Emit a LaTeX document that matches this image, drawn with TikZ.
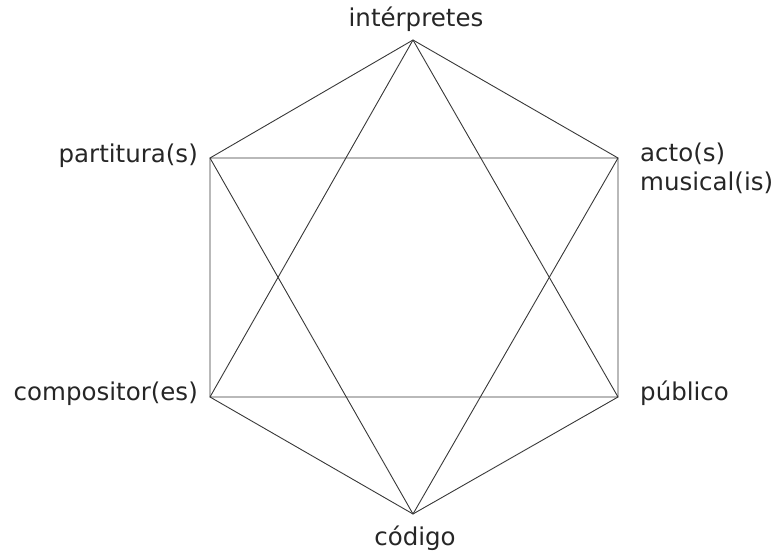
\documentclass[tikz,border=0pt]{standalone}
\usepackage{fontspec}
\setmainfont{DejaVu Sans}
\begin{document}
\begin{tikzpicture}[x=1pt,y=1pt,
  edge/.style={draw=black!78, line width=0.9pt, line join=round},
  lbl/.style={inner sep=0pt, text=black!85, font=\fontsize{24.5}{29}\selectfont}]
\useasboundingbox (0,0) rectangle (773,554);
\coordinate (T)  at (413,514);
\coordinate (UL) at (210,396);
\coordinate (UR) at (618,396);
\coordinate (LL) at (210,157);
\coordinate (LR) at (618,157);
\coordinate (B)  at (413,40);
% hexagon
\draw[edge] (T) -- (UR) -- (LR) -- (B) -- (LL) -- (UL) -- cycle;
% triangles
\draw[edge] (T) -- (LL) -- (LR) -- cycle;
\draw[edge] (UL) -- (UR) -- (B) -- cycle;
% labels
\node[lbl, anchor=base] (nT) at (416,527) {intérpretes};
\node[lbl, anchor=base east] (nUL) at (198,391) {partitura(s)};
\node[lbl, anchor=base west, align=left] (nUR) at (640,363) {acto(s)\\musical(is)};
\node[lbl, anchor=base east] (nLL) at (198,153) {compositor(es)};
\node[lbl, anchor=base west] (nLR) at (640,153) {público};
\node[lbl, anchor=base] (nB) at (415,9) {código};
\end{tikzpicture}
\end{document}
